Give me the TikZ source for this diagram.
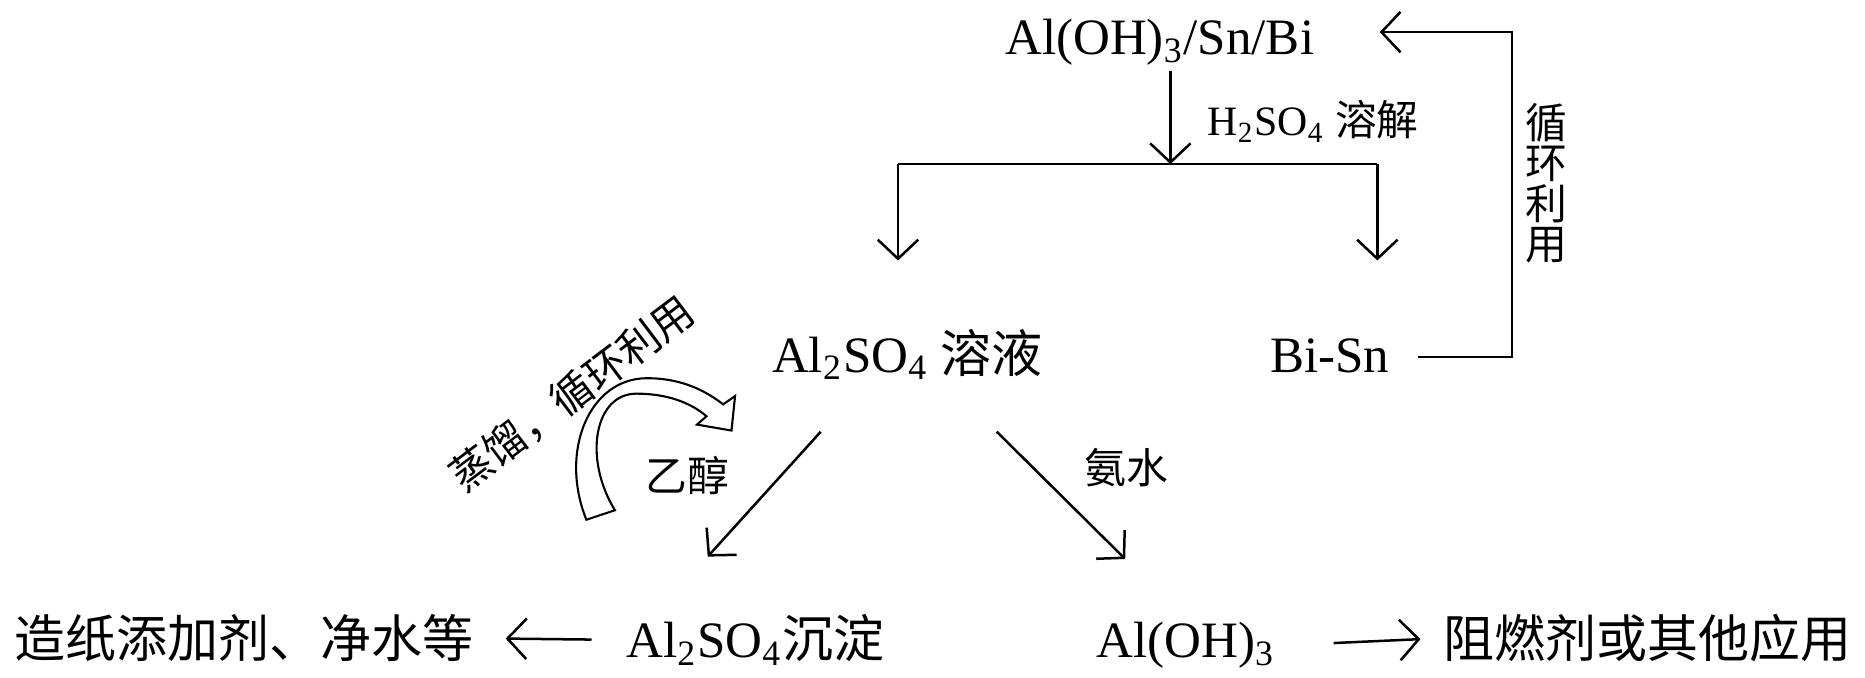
\documentclass[tikz,border=0pt]{standalone}
\usepackage{fontspec}
\setmainfont{Liberation Serif}
\newfontfamily\cjk{Noto Sans CJK SC}
\usetikzlibrary{arrows.meta}
\begin{document}
\begin{tikzpicture}[big/.style={inner sep=1pt, anchor=base, font=\fontsize{12.2}{14}\selectfont},
small/.style={inner sep=1pt, font=\fontsize{10}{12}\selectfont},
flow/.style={line width=0.6pt, -{Straight Barb[length=1.6mm,width=3.4mm]}},
plain/.style={line width=0.6pt}]
\useasboundingbox (0,0) rectangle (15.68,5.70);
\node[big] (raw) at (9.75,5.24) {Al(OH)\textsubscript{3}/Sn/Bi};
\coordinate (split) at (9.84,4.32);
\coordinate (bl) at (7.55,4.32);
\coordinate (br) at (11.58,4.32);
\coordinate (blend) at (7.55,3.51);
\coordinate (brend) at (11.58,3.51);
\draw[flow] (split |- raw.south) -- (split);
\draw[plain] (bl) -- (br);
\draw[flow] (bl) -- (blend);
\draw[flow] (br) -- (brend);
\node[small] (acid) at (11.04,4.68) {H\textsubscript{2}SO\textsubscript{4} {\cjk 溶解}};
\node[big] (sol) at (7.63,2.57) {Al\textsubscript{2}SO\textsubscript{4} {\cjk 溶液}};
\node[big] (bisn) at (11.18,2.57) {Bi-Sn};
% loop back to the top
\coordinate (c0) at (11.92,2.70);
\coordinate (c1) at (12.71,2.70);
\coordinate (c2) at (12.71,5.43);
\coordinate (back) at (11.60,5.43);
\draw[flow] (c0) -- (c1) -- (c2) -- (back);
\node[small, align=center, font=\cjk\fontsize{10}{9.7}\selectfont] (loop) at (13.00,4.16) {循\\环\\利\\用};
% two routes down
\coordinate (e0) at (6.90,2.07);
\coordinate (e1) at (5.95,1.02);
\coordinate (a0) at (8.38,2.07);
\coordinate (a1) at (9.46,1.00);
\draw[flow] (e0) -- (e1);
\draw[flow] (a0) -- (a1);
\node[small] (eth) at (5.78,1.70) {\cjk 乙醇};
\node[small] (amm) at (9.47,1.77) {\cjk 氨水};
\node[small, rotate=37] (dist) at (4.81,2.39) {\cjk 蒸馏，循环利用};
\draw[line width=0.5pt] (4.93,1.33) .. controls (4.70,1.90) and (4.95,2.52) .. (5.44,2.52)
  .. controls (5.75,2.52) and (5.95,2.40) .. (6.08,2.30) -- (6.18,2.37) -- (6.15,2.08)
  -- (5.86,2.13) -- (5.94,2.20) .. controls (5.80,2.32) and (5.60,2.39) .. (5.35,2.39)
  .. controls (5.00,2.39) and (4.90,1.85) .. (5.17,1.41) -- cycle;
% bottom row
\node[big] (paper) at (2.05,0.17) {\cjk 造纸添加剂、净水等};
\node[big] (ppt) at (6.35,0.17) {Al\textsubscript{2}SO\textsubscript{4}{\cjk 沉淀}};
\node[big] (hyd) at (9.97,0.17) {Al(OH)\textsubscript{3}};
\node[big] (flame) at (13.85,0.17) {\cjk 阻燃剂或其他应用};
\draw[flow, shorten <=0.25cm, shorten >=0.23cm] (ppt.west) -- (paper.east);
\draw[flow, shorten <=0.45cm, shorten >=0.15cm] (hyd.east) -- (flame.west);
\end{tikzpicture}
\end{document}
